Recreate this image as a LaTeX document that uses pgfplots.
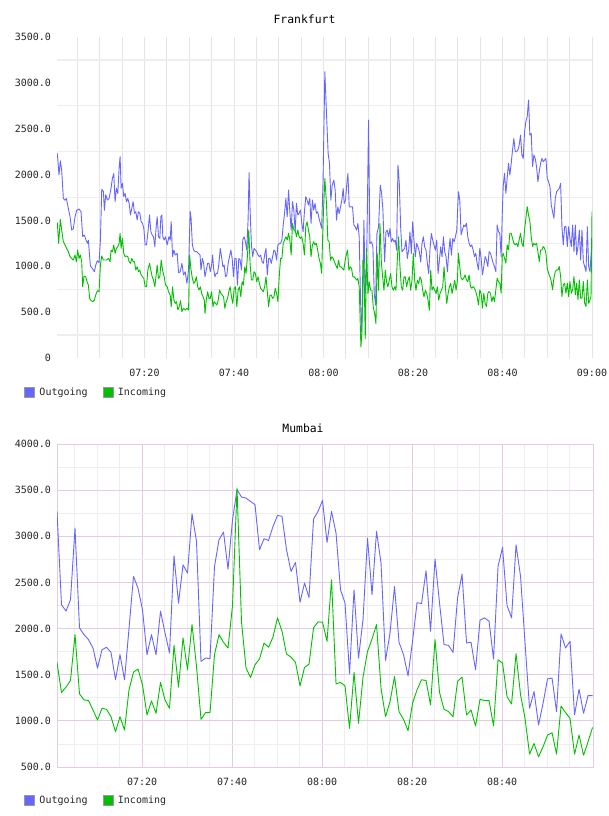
\documentclass[border=0pt]{standalone}
\usepackage{pgfplots}
\pgfplotsset{compat=1.18}
\usepackage{fontspec}
\setmonofont{DejaVu Sans Mono}
\definecolor{outc}{HTML}{6666FF}
\definecolor{inc}{HTML}{00C000}
\definecolor{gridg}{HTML}{E4E4E4}
\definecolor{gridh}{HTML}{EEEEEE}
\definecolor{pinkg}{HTML}{EDDCED}
\definecolor{pinkf}{HTML}{E2CCE2}
\newcommand{\tfont}{\ttfamily\fontsize{10}{12}\selectfont}
\pgfplotsset{
  myaxis/.style={
    scale only axis,
    ticklabel style={font=\tfont, text=black!85},
    tick style={draw=none},
    yticklabel style={anchor=east, xshift=-2.5pt},
    legend style={draw=none, fill=none, legend columns=2, font=\tfont,
      inner sep=0pt, nodes={inner sep=0pt, text=black!85},
      /tikz/every odd column/.append style={column sep=4.5pt},
      /tikz/every even column/.append style={column sep=15pt}},
  },
  outg/.style={color=outc, line width=0.9pt, line join=round, mark=none,
    legend image code/.code={\filldraw[fill=outc, draw=black!40, line width=0.8pt] (0pt,-5pt) rectangle (10pt,5pt);}},
  incg/.style={color=inc, line width=0.9pt, line join=round, mark=none,
    legend image code/.code={\filldraw[fill=inc, draw=black!40, line width=0.8pt] (0pt,-5pt) rectangle (10pt,5pt);}},
}
\begin{document}
\begin{tikzpicture}
\useasboundingbox (0,0) rectangle (608pt,816pt);
\node[font=\ttfamily\fontsize{11.4}{13}\selectfont, anchor=base] at (304.5pt,792pt) {Frankfurt};
\node[font=\ttfamily\fontsize{11.4}{13}\selectfont, anchor=base] at (303pt,383pt) {Mumbai};
\begin{axis}[myaxis,
  at={(57pt,458pt)}, anchor=south west, width=535pt, height=321pt,
  xmin=0.45, xmax=120, ymin=0, ymax=3500,
  axis line style={draw=none},
  xtick={20,40,60,80,100,120},
  xticklabels={07:20,07:40,08:00,08:20,08:40,09:00},
  xticklabel style={anchor=base, yshift=-19pt},
  minor xtick={5,10,...,115},
  xmajorgrids, xminorgrids,
  ytick={0,500,...,3500},
  yticklabels={0,500.0,1000.0,1500.0,2000.0,2500.0,3000.0,3500.0},
  minor ytick={250,750,...,3250},
  yminorgrids,
  x grid style={gridg, line width=0.8pt},
  y grid style={gridh, line width=1.4pt},
  legend style={at={(-0.0617,-0.106)}, anchor=west},
]
\addplot[outg] coordinates {
(0.52,2232)(0.90,1995)(1.19,2150)(1.49,2050)(1.87,1740)(2.24,1720)(2.54,1740)(2.99,1630)(3.36,1540)(3.73,1395)
(4.10,1410)(4.48,1540)(4.85,1610)(5.37,1625)(5.82,1595)(6.19,1325)(6.57,1340)(6.94,1285)(7.31,1250)(7.46,1285)
(7.69,1140)(7.91,1003)(8.36,977)(8.81,940)(9.10,1013)(9.48,1060)(9.85,1040)(10.15,1285)(10.45,1840)(10.82,1815)
(11.04,1610)(11.34,1780)(11.72,1723)(12.09,1740)(12.46,1830)(12.84,1960)(13.13,2010)(13.43,1705)(13.73,1850)(14.03,1795)
(14.33,2070)(14.55,2195)(14.78,1850)(15.07,1905)(15.37,1760)(15.67,1795)(15.97,1705)(16.27,1740)(16.57,1686)(16.87,1560)
(17.16,1630)(17.46,1705)(17.76,1577)(18.06,1595)(18.36,1505)(18.66,1595)(18.96,1577)(19.25,1486)(19.55,1468)(19.85,1414)
(20.15,1232)(20.45,1232)(20.75,1359)(21.12,1560)(21.42,1377)(21.72,1340)(22.01,1322)(22.31,1214)(22.61,1432)(22.84,1540)
(23.13,1322)(23.43,1304)(23.66,1540)(23.88,1560)(24.10,1322)(24.40,1286)(24.70,1322)(25.07,1232)(25.45,1322)(25.75,1286)
(25.97,1486)(26.27,1105)(26.57,1177)(26.87,1123)(27.31,1141)(27.61,930)(27.99,940)(28.36,1032)(28.73,905)(29.10,940)
(29.48,814)(29.85,960)(30.07,1359)(30.20,1600)(30.41,1523)(30.70,1232)(31.00,1177)(31.30,1159)(31.67,1159)(32.04,1141)
(32.41,1123)(32.63,959)(32.93,1086)(33.22,1032)(33.52,886)(33.81,959)(34.11,1032)(34.41,1032)(34.70,941)(35.00,1013)
(35.22,1123)(35.44,977)(35.74,886)(36.04,923)(36.33,923)(36.63,1032)(36.93,1195)(37.22,1105)(37.52,995)(37.81,1013)
(38.11,886)(38.41,905)(38.70,1032)(39.00,1105)(39.30,1177)(39.59,1086)(39.89,886)(40.19,1086)(40.48,1086)(40.78,795)
(41.07,1086)(41.37,1068)(41.67,959)(41.96,1286)(42.26,1322)(42.56,1268)(42.85,1177)(43.15,1505)(43.37,2021)(43.59,1632)
(43.89,1232)(44.19,1105)(44.48,1195)(44.78,1177)(45.07,1159)(45.37,1123)(45.67,1105)(45.96,1123)(46.26,1050)(46.56,1032)
(46.85,1123)(47.15,1195)(47.44,905)(47.74,1086)(48.04,1086)(48.33,1032)(48.63,1105)(48.93,1177)(49.22,1159)(49.52,1068)
(49.81,1232)(50.11,1250)(50.41,1250)(50.70,1286)(51.00,1450)(51.30,1577)(51.59,1741)(51.89,1540)(52.19,1832)(52.48,1595)
(52.78,1395)(53.07,1705)(53.37,1614)(53.67,1377)(53.96,1686)(54.26,1560)(54.56,1577)(54.85,1614)(55.15,1468)(55.44,1377)
(55.74,1595)(56.04,1759)(56.33,1723)(56.63,1668)(56.93,1741)(57.22,1468)(57.52,1723)(57.81,1614)(58.11,1686)(58.41,1577)
(58.70,1595)(59.00,1523)(59.30,1468)(59.59,1414)(59.89,1905)(60.30,3121)(60.67,2666)(61.04,2230)(61.34,2121)(61.64,1721)
(61.94,1885)(62.31,1939)(62.61,1830)(62.91,1503)(63.21,1648)(63.51,1575)(63.81,1648)(64.10,1721)(64.40,1848)(64.63,1685)
(64.93,1721)(65.22,1903)(65.45,2012)(65.75,1648)(66.12,1648)(66.49,1648)(66.79,1448)(67.09,1430)(67.39,1394)(67.69,1467)
(67.98,1320)(68.28,630)(68.51,285)(68.81,703)(69.03,1503)(69.33,703)(69.63,994)(70.07,2594)(70.37,1248)(70.75,1266)
(71.04,1212)(71.34,703)(71.64,576)(71.94,1357)(72.31,1430)(72.69,1885)(72.99,1794)(73.28,1612)(73.66,1048)(73.96,1376)
(74.25,1394)(74.55,1321)(74.85,1412)(75.15,1266)(75.45,1303)(75.75,1266)(76.04,1285)(76.34,1176)(76.64,2103)(76.94,1903)
(77.24,1430)(77.54,1157)(77.84,1176)(78.13,1194)(78.43,1285)(78.73,1085)(79.03,1176)(79.33,1376)(79.63,1139)(79.93,1485)
(80.22,1285)(80.52,1103)(80.82,1248)(81.12,1212)(81.42,1157)(81.72,1048)(82.01,1248)(82.31,1321)(82.61,1212)(82.91,1176)
(83.21,1030)(83.51,921)(83.81,1194)(84.10,1357)(84.40,1285)(84.70,1230)(85.00,1176)(85.30,1285)(85.60,921)(85.90,1066)
(86.19,1212)(86.49,1103)(86.79,1321)(87.09,1157)(87.39,1103)(87.69,939)(87.99,1157)(88.28,1303)(88.58,1121)(88.88,1303)
(89.18,1266)(89.48,1321)(89.78,1394)(90.15,1813)(90.45,1723)(90.75,1342)(91.04,1396)(91.34,1450)(91.64,1432)(91.94,1468)
(92.24,1323)(92.54,1251)(92.84,1215)(93.13,1233)(93.43,1178)(93.73,1106)(94.03,1142)(94.33,1033)(94.63,960)(94.93,1196)
(95.22,1088)(95.52,906)(95.82,997)(96.12,1106)(96.42,1069)(96.72,997)(97.01,1160)(97.31,1142)(97.61,1088)(97.91,1033)
(98.21,997)(98.51,942)(98.81,1450)(99.10,1378)(99.40,1360)(99.70,1106)(99.93,1541)(100.15,1868)(100.45,2013)(100.75,1795)
(101.04,1959)(101.34,2122)(101.64,1995)(101.94,2122)(102.24,2267)(102.54,2394)(102.84,2249)(103.13,2249)(103.43,2267)(103.73,2322)
(104.03,2430)(104.33,2213)(104.63,2176)(104.93,2467)(105.22,2576)(105.52,2630)(105.82,2812)(106.12,2430)(106.42,2449)(106.72,2086)
(107.01,2213)(107.31,2176)(107.61,2086)(107.91,1922)(108.21,2031)(108.51,2122)(108.81,2176)(109.10,2140)(109.40,2158)(109.70,2176)
(110.00,1959)(110.30,1922)(110.60,1868)(110.90,1668)(111.19,1596)(111.49,1523)(111.79,1741)(112.09,1813)(112.39,1832)(112.69,1850)
(112.99,1904)(113.28,1432)(113.58,1233)(113.88,1432)(114.18,1432)(114.48,1215)(114.78,1432)(115.07,1305)(115.37,1215)(115.67,1450)
(115.97,1160)(116.27,1450)(116.57,1124)(116.87,1215)(117.16,1396)(117.46,1069)(117.76,1396)(118.06,1051)(118.36,997)(118.66,942)
(118.96,1432)(119.25,997)(119.55,942)(120.00,1287)
};
\addlegendentry{Outgoing}
\addplot[incg] coordinates {
(0.52,1475)(0.82,1250)(1.19,1512)(1.49,1395)(1.87,1268)(2.24,1232)(2.61,1195)(2.99,1159)(3.36,1105)(3.73,1086)
(4.10,1068)(4.48,1123)(4.78,1050)(5.07,1177)(5.37,1086)(5.67,1123)(5.97,1050)(6.19,777)(6.49,894)(6.87,886)
(7.16,832)(7.46,795)(7.76,650)(8.06,625)(8.51,614)(8.81,632)(9.10,686)(9.48,734)(9.85,723)(10.15,1013)
(10.45,1113)(10.82,1068)(11.19,1068)(11.57,1068)(11.94,1086)(12.31,1050)(12.54,1177)(12.84,1159)(13.13,1232)(13.43,1141)
(13.73,1195)(14.03,1214)(14.33,1250)(14.55,1359)(14.78,1195)(15.07,1304)(15.37,1141)(15.67,1105)(15.97,1113)(16.27,1105)
(16.57,1050)(16.87,1032)(17.16,1086)(17.46,1050)(17.76,1050)(18.06,959)(18.36,995)(18.66,941)(18.96,959)(19.25,905)
(19.55,886)(19.85,868)(20.15,777)(20.45,777)(20.75,959)(21.12,1032)(21.42,959)(21.72,886)(22.01,850)(22.31,777)
(22.61,905)(22.84,1013)(23.13,868)(23.43,886)(23.73,1068)(24.03,959)(24.40,886)(24.70,795)(25.07,777)(25.37,723)
(25.75,686)(25.97,559)(26.27,777)(26.57,632)(26.87,595)(27.16,614)(27.46,523)(27.76,559)(28.06,625)(28.36,505)
(28.73,541)(29.10,523)(29.48,541)(29.85,523)(30.07,1123)(30.41,959)(30.70,868)(31.00,814)(31.30,832)(31.59,886)
(31.89,777)(32.19,741)(32.48,777)(32.78,705)(33.07,668)(33.37,632)(33.52,486)(33.81,632)(34.11,723)(34.41,650)
(34.70,650)(35.00,723)(35.30,559)(35.59,614)(35.89,595)(36.19,577)(36.48,632)(36.78,741)(37.07,705)(37.37,686)
(37.67,668)(37.96,541)(38.26,614)(38.56,650)(38.85,723)(39.15,777)(39.44,668)(39.74,595)(40.04,759)(40.33,777)
(40.63,559)(40.93,741)(41.22,777)(41.52,668)(41.81,832)(42.11,795)(42.41,995)(42.70,923)(43.00,1105)(43.30,1395)
(43.59,1032)(43.89,850)(44.19,850)(44.48,941)(44.78,923)(45.07,832)(45.37,886)(45.67,814)(45.96,759)(46.26,741)
(46.56,723)(46.85,777)(47.15,886)(47.44,723)(47.74,559)(48.04,686)(48.33,686)(48.63,650)(48.93,668)(49.22,759)
(49.52,705)(49.81,614)(50.11,886)(50.41,1086)(50.70,1086)(51.00,1250)(51.30,1286)(51.59,1322)(51.89,1286)(52.19,1359)
(52.48,1286)(52.78,1123)(53.07,1468)(53.37,1395)(53.67,1395)(53.96,1322)(54.26,1395)(54.56,1322)(54.85,1304)(55.15,1322)
(55.44,1250)(55.74,1123)(56.04,1432)(56.33,1486)(56.63,1395)(56.93,1322)(57.22,1105)(57.52,1232)(57.81,1268)(58.11,1232)
(58.41,1250)(58.70,1177)(59.00,1086)(59.30,1032)(59.59,923)(59.89,1468)(60.30,1957)(60.67,1685)(60.97,1285)(61.27,1266)
(61.57,1066)(61.87,1103)(62.16,1085)(62.46,1048)(62.76,1012)(63.06,976)(63.36,1066)(63.66,994)(63.96,994)(64.25,976)
(64.55,957)(64.85,1066)(65.15,1139)(65.37,1176)(65.67,957)(65.97,994)(66.27,976)(66.57,885)(66.87,885)(67.16,867)
(67.46,848)(67.69,867)(67.98,776)(68.21,376)(68.36,121)(68.58,266)(68.81,1066)(69.03,1048)(69.33,212)(69.63,1194)
(69.93,703)(70.22,830)(70.52,739)(70.82,739)(71.12,557)(71.42,485)(71.72,376)(72.01,1139)(72.31,739)(72.61,1467)
(72.91,1066)(73.21,885)(73.51,739)(73.81,957)(74.10,830)(74.40,776)(74.70,848)(75.00,921)(75.30,776)(75.60,739)
(75.90,776)(76.19,739)(76.49,1066)(76.79,1321)(77.09,994)(77.39,776)(77.69,739)(77.99,885)(78.28,885)(78.58,776)
(78.88,848)(79.18,885)(79.48,739)(79.78,848)(80.07,1139)(80.37,848)(80.67,739)(80.97,848)(81.27,812)(81.57,885)
(81.87,848)(82.16,739)(82.46,667)(82.76,739)(83.06,703)(83.36,630)(83.66,521)(83.96,957)(84.25,739)(84.55,776)
(84.85,739)(85.15,703)(85.45,776)(85.75,630)(86.04,703)(86.34,739)(86.64,776)(86.94,994)(87.24,776)(87.54,594)
(87.84,703)(88.13,776)(88.43,812)(88.73,703)(89.03,776)(89.33,848)(89.63,739)(89.93,848)(90.15,1142)(90.45,997)
(90.75,870)(91.04,852)(91.34,870)(91.64,906)(91.94,852)(92.24,833)(92.54,906)(92.84,779)(93.13,761)(93.43,779)
(93.73,761)(94.03,724)(94.33,670)(94.63,579)(94.93,743)(95.22,706)(95.52,543)(95.82,706)(96.12,597)(96.42,561)
(96.72,706)(97.01,724)(97.31,706)(97.61,615)(97.91,670)(98.21,615)(98.51,743)(98.81,870)(99.10,833)(99.40,815)
(99.70,706)(99.93,1106)(100.15,1142)(100.45,1088)(100.75,1033)(101.04,1233)(101.34,1178)(101.64,1360)(101.94,1360)(102.24,1305)
(102.54,1251)(102.84,1233)(103.13,1251)(103.43,1215)(103.73,1287)(104.03,1360)(104.33,1251)(104.63,1215)(104.93,1396)(105.22,1523)
(105.52,1650)(105.82,1559)(106.12,1487)(106.42,1323)(106.72,1215)(107.01,1251)(107.31,1233)(107.61,1251)(107.91,1160)(108.21,1051)
(108.51,1178)(108.81,1178)(109.10,1215)(109.40,1196)(109.70,1142)(110.00,979)(110.30,924)(110.60,888)(110.90,833)(111.19,743)
(111.49,870)(111.79,942)(112.09,960)(112.39,960)(112.69,997)(112.99,888)(113.28,670)(113.58,797)(113.88,815)(114.18,706)
(114.48,815)(114.78,670)(115.07,833)(115.37,706)(115.67,743)(115.97,888)(116.27,688)(116.57,815)(116.87,634)(117.16,852)
(117.46,652)(117.76,652)(118.06,833)(118.36,597)(118.66,561)(118.96,852)(119.25,597)(119.55,634)(119.78,670)(120.00,1596)
};
\addlegendentry{Incoming}
\end{axis}
\begin{axis}[myaxis,
  at={(57pt,49pt)}, anchor=south west, width=536pt, height=323pt,
  xmin=1.1, xmax=120.2, ymin=500, ymax=4000,
  axis line style={pinkf, line width=0.8pt},
  xtick={20,40,60,80,100},
  xticklabels={07:20,07:40,08:00,08:20,08:40},
  xticklabel style={anchor=base, yshift=-18pt},
  minor xtick={5,10,...,115},
  xmajorgrids, xminorgrids,
  ytick={500,1000,...,4000},
  yticklabels={500.0,1000.0,1500.0,2000.0,2500.0,3000.0,3500.0,4000.0},
  minor ytick={750,1250,...,3750},
  ymajorgrids, yminorgrids,
  major grid style={pinkf, line width=0.8pt},
  minor grid style={gridh, line width=0.8pt},
  legend style={at={(-0.0616,-0.1037)}, anchor=west},
]
\addplot[outg] coordinates {
(1.1,3270)(2.1,2258)(3.1,2190)(4.1,2312)(5.1,3089)(6.1,2007)(7.1,1935)(8.1,1880)(9.1,1789)(10.1,1572)
(11.1,1771)(12.1,1797)(13.1,1742)(14.1,1445)(15.1,1717)(16.1,1445)(17.1,2000)(18.1,2565)(19.1,2438)(20.1,2203)
(21.1,1717)(22.1,1935)(23.1,1717)(24.1,2189)(25.1,1953)(26.1,1735)(27.1,2789)(28.1,2276)(29.1,2691)(30.1,2601)
(31.1,3244)(32.1,2944)(33.1,1644)(34.1,1681)(35.1,1673)(36.1,2673)(37.1,2962)(38.1,3046)(39.1,2644)(40.1,3179)
(41.1,3505)(42.1,3425)(43.1,3414)(44.1,3378)(45.1,3342)(46.1,2854)(47.1,2973)(48.1,2955)(49.1,3107)(50.1,3226)
(51.1,3216)(52.1,2854)(53.1,2619)(54.1,2717)(55.1,2285)(56.1,2493)(57.1,2337)(58.1,3187)(59.1,3270)(60.1,3389)
(61.1,2934)(62.1,3270)(63.1,3035)(64.1,2420)(65.1,2276)(66.1,1510)(67.1,2420)(68.1,1680)(69.1,2100)(70.1,2981)
(71.1,2366)(72.1,3053)(73.1,2709)(74.1,1655)(75.1,1953)(76.1,2456)(77.1,1851)(78.1,1717)(79.1,1488)(80.1,1862)
(81.1,2280)(82.1,2272)(83.1,2626)(84.1,1971)(85.1,2753)(86.1,2276)(87.1,1826)(88.1,1818)(89.1,1742)(90.1,2330)
(91.1,2590)(92.1,1844)(93.1,1851)(94.1,1553)(95.1,2091)(96.1,2116)(97.1,2080)(98.1,1670)(99.1,2673)(100.1,2879)
(101.1,2250)(102.1,2116)(103.1,2908)(104.1,2565)(105.1,1844)(106.1,1136)(107.1,1318)(108.1,955)(109.1,1190)(110.1,1455)
(111.1,1463)(112.1,1100)(113.1,1942)(114.1,1789)(115.1,1862)(116.1,1064)(117.1,1343)(118.1,1082)(119.1,1274)(120.1,1274)
};
\addlegendentry{Outgoing}
\addplot[incg] coordinates {
(1.1,1633)(2.1,1307)(3.1,1365)(4.1,1437)(5.1,1935)(6.1,1292)(7.1,1227)(8.1,1220)(9.1,1118)(10.1,1009)
(11.1,1136)(12.1,1125)(13.1,1045)(14.1,882)(15.1,1045)(16.1,900)(17.1,1336)(18.1,1528)(19.1,1561)(20.1,1390)
(21.1,1063)(22.1,1216)(23.1,1082)(24.1,1416)(25.1,1227)(26.1,1136)(27.1,1818)(28.1,1365)(29.1,1898)(30.1,1553)
(31.1,2044)(32.1,1590)(33.1,1016)(34.1,1089)(35.1,1089)(36.1,1717)(37.1,1935)(38.1,1851)(39.1,1789)(40.1,2250)
(41.1,3523)(42.1,2070)(43.1,1572)(44.1,1470)(45.1,1608)(46.1,1670)(47.1,1844)(48.1,1797)(49.1,1909)(50.1,2116)
(51.1,1971)(52.1,1724)(53.1,1691)(54.1,1633)(55.1,1379)(56.1,1579)(57.1,1615)(58.1,2007)(59.1,2073)(60.1,2069)
(61.1,1862)(62.1,2529)(63.1,1401)(64.1,1416)(65.1,1379)(66.1,918)(67.1,1524)(68.1,973)(69.1,1474)(70.1,1753)
(71.1,1887)(72.1,2044)(73.1,1354)(74.1,1045)(75.1,1209)(76.1,1481)(77.1,1100)(78.1,1016)(79.1,893)(80.1,1191)
(81.1,1336)(82.1,1445)(83.1,1437)(84.1,1172)(85.1,1880)(86.1,1307)(87.1,1125)(88.1,1100)(89.1,1045)(90.1,1427)
(91.1,1474)(92.1,1063)(93.1,1118)(94.1,944)(95.1,1234)(96.1,1220)(97.1,1220)(98.1,944)(99.1,1662)(100.1,1626)
(101.1,1263)(102.1,1183)(103.1,1728)(104.1,1281)(105.1,1027)(106.1,639)(107.1,755)(108.1,610)(109.1,719)(110.1,846)
(111.1,871)(112.1,639)(113.1,1161)(114.1,1089)(115.1,1027)(116.1,639)(117.1,846)(118.1,628)(119.1,773)(120.1,929)
};
\addlegendentry{Incoming}
\end{axis}
\end{tikzpicture}
\end{document}
